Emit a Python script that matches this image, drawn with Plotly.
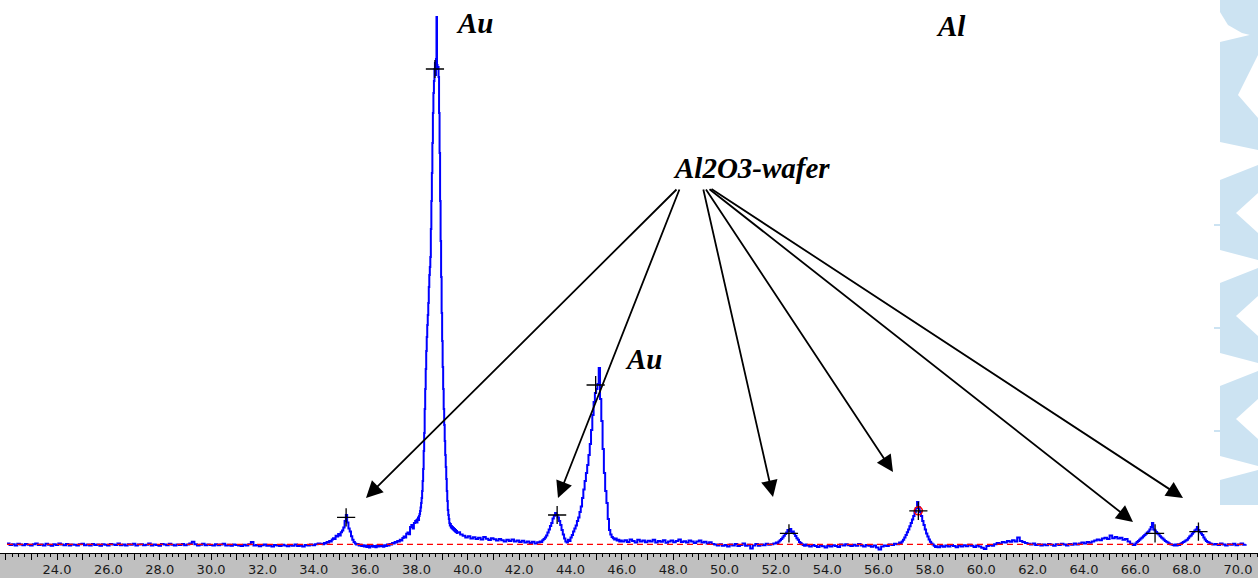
import numpy as np
import plotly.graph_objects as go

# ---------------- data: XRD scan stored as segments (start 2-theta, step, counts) ----------------
seg_start = [22.05, 34.30, 38.00, 39.60, 42.75, 46.10, 52.00, 53.30, 56.85, 58.40, 64.30, 66.00, 69.10]
seg_step = [0.1, 0.05, 0.02, 0.1, 0.05, 0.1, 0.05, 0.1, 0.05, 0.1, 0.1, 0.05, 0.1]

counts_a = [47, 40, 44, 38, 46, 42, 39, 45, 41, 37, 44, 48, 40,
            43, 38, 46, 41, 36, 44, 40, 47, 42, 39, 45, 38, 43,
            41, 37, 44, 46, 39, 42, 38, 45, 40, 43, 36, 44, 41,
            38, 45, 42, 40, 47, 39, 43, 37, 44, 41, 46, 38, 42,
            44, 39, 41, 47, 38, 43, 40, 36, 45, 42, 39, 46, 41,
            37, 43, 40, 45, 39, 42, 48, 56, 44, 38, 41, 46, 39,
            43, 40, 37, 44, 39, 42, 46, 38, 41, 36, 43, 40, 38,
            35, 41, 38, 44, 55, 37, 40, 34, 39, 42, 36, 38, 33,
            40, 37, 35, 41, 38, 34, 39, 36, 42, 35, 38, 33, 40,
            37, 42, 39, 44, 47, 45]
counts_b = [46, 44, 50, 48, 55, 52, 60, 57, 68, 74, 70, 86, 82, 95,
            88, 104, 112, 128, 160, 190, 152, 122, 108, 84, 66, 55, 48, 42, 45, 38,
            41, 35, 39, 33, 37, 30, 36, 28, 34, 38,
            31, 35, 29, 37, 32, 40, 34, 38, 31, 39, 35, 42, 38, 45,
            42, 50, 47, 55, 52, 60, 58, 66, 63, 75, 82, 78, 96, 102, 94, 130,
            140, 122, 150, 160]
counts_c = [165, 152, 170, 178, 165, 185, 195, 210, 228, 250,
            275, 310, 360, 420, 510, 600, 720, 820, 920, 1010,
            1080, 1140, 1190, 1250, 1330, 1390, 1430, 1480, 1620, 1760,
            1900, 2050, 2200, 2300, 2360, 2420, 2450, 2390, 2470, 2680,
            2440, 2420, 2430, 2380, 2200, 2000, 1760, 1560, 1380, 1200,
            1060, 930, 820, 720, 640, 560, 490, 430, 370, 310,
            260, 215, 190, 170, 150, 138, 145, 128, 135, 122,
            130, 118, 125, 112, 120, 108, 115, 104, 110, 100]
counts_d = [104, 92, 86, 78, 84, 72, 79, 70, 76, 68, 80, 71, 65, 74, 69, 62,
            70, 64, 58, 66, 60, 68, 57, 63, 55, 61, 52, 58, 50, 56, 48, 54]
counts_e = [52, 58, 55, 64, 70,
            78, 88, 102, 118, 135, 150, 172, 186, 200, 190,
            178, 160, 140, 115, 92, 72, 58, 52, 66, 60,
            78, 90, 108, 122, 138, 160, 178, 205, 232, 275,
            318, 360, 400, 440, 490, 545, 615, 690, 755, 800,
            820, 845, 925, 770, 660, 520, 400, 310, 250, 170,
            115, 92, 80, 74, 68, 72, 62, 66, 58, 63,
            57]
counts_f = [64, 55, 68, 60, 52, 66, 58, 63, 54,
            61, 57, 66, 53, 60, 56, 64, 51, 58, 62,
            54, 60, 68, 55, 59, 52, 63, 57, 50, 58,
            62, 53, 56, 48, 54, 45, 42, 38, 44, 36,
            40, 33, 42, 37, 45, 35, 40, 48, 36, 41,
            22, 38, 45, 36, 42, 39, 46, 41, 44, 48]
counts_g = [52, 50, 58, 64, 70, 78, 86, 95, 102, 115, 110, 120, 105,
            108, 96, 85, 74, 66, 55, 50, 44, 40, 36, 42, 38]
counts_h = [33, 40, 35, 30, 38, 34, 27, 36, 32, 39, 35, 30, 42, 37, 44, 39, 35, 41,
            36, 45, 38, 33, 40, 36, 31, 38, 27, 18, 32, 38, 35, 42, 40, 46, 44, 52]
counts_i = [50, 58, 66, 78, 90, 104, 118, 134, 150, 168, 185, 205, 225, 255, 230,
            205, 185, 160, 140, 118, 98, 82, 68, 56, 48, 42, 36, 30, 34, 29]
counts_j = [36, 31, 38, 33, 40, 35,
            29, 37, 32, 39, 34, 41, 36, 30, 38, 33,
            26, 20, 35, 40, 36, 44, 50, 46, 55, 52,
            60, 56, 64, 58, 78, 60, 55, 50, 46, 42,
            47, 40, 44, 38, 43, 39, 45, 41, 36, 44,
            40, 46, 42, 38, 45, 41, 48, 43, 47, 52,
            48, 55, 51]
counts_k1 = [58, 62, 68, 64, 72, 76, 70, 88, 74, 80, 72, 76, 66, 70, 58, 46, 40]
counts_k2 = [48, 55, 60, 66, 72, 78, 84, 90, 96, 102, 108, 118, 130, 150, 118, 112, 105, 98, 92, 84,
             78, 72, 66, 60, 56, 52, 48, 44, 42, 40, 37, 42, 38, 44, 40, 46, 50, 55, 58, 62,
             66, 74, 82, 88, 96, 104, 112, 118, 130, 115, 105, 98, 90, 78, 68, 60, 55, 52, 48, 46,
             42]
counts_k3 = [45, 40, 47, 42, 38, 44, 41, 46, 39, 43, 47, 41, 44]

segments = [counts_a, counts_b, counts_c, counts_d, counts_e, counts_f, counts_g,
            counts_h, counts_i, counts_j, counts_k1, counts_k2, counts_k3]

# marked peaks (+)
peak_two_theta = [35.26, 38.72, 43.48, 44.98, 52.51, 57.55, 66.77, 68.46]
peak_counts = [178, 2420, 190, 840, 98, 211, 98, 107]
highlight_two_theta = [57.55]
highlight_counts = [211]
background_level = 43

x_tick_values = list(range(22, 71))
x_tick_text = [f"{v:.1f}" if v % 2 == 0 else "" for v in x_tick_values]

# ---------------- build the scan ----------------
two_theta, counts = [], []
for s, st, c in zip(seg_start, seg_step, segments):
    two_theta.extend(np.round(s + st * np.arange(len(c)), 3).tolist())
    counts.extend(c)

W, H = 1258, 578
PLOT_H = 553
X0, X1 = 21.778, 70.78
Y0, Y1 = 0, 2765

fig = go.Figure()
fig.add_trace(go.Scatter(x=two_theta, y=counts, mode="lines",
                         line=dict(color="#0000ff", width=2, shape="hv"),
                         hoverinfo="skip", showlegend=False))
fig.add_trace(go.Scatter(x=[two_theta[0], two_theta[-1]], y=[background_level, background_level],
                         mode="lines", line=dict(color="#ff0000", width=1.3, dash="6px,4px"),
                         showlegend=False))
fig.add_trace(go.Scatter(x=highlight_two_theta, y=highlight_counts, mode="markers",
                         marker=dict(symbol="circle-open", size=8, color="#ff0000",
                                     line=dict(width=1.5, color="#ff0000")),
                         showlegend=False))
fig.add_trace(go.Scatter(x=peak_two_theta, y=peak_counts, mode="markers",
                         marker=dict(symbol="cross-thin", size=13,
                                     line=dict(width=1.3, color="black")),
                         showlegend=False))


# helpers for layout positions (pixel -> data / paper)
def dx(px):
    return X0 + px * (X1 - X0) / W


def dy(py):
    return (PLOT_H - py) * (Y1 - Y0) / PLOT_H


def ppath(points):
    return "M " + " L ".join(f"{x / W:.5f},{(PLOT_H - y) / PLOT_H:.5f}" for x, y in points) + " Z"


label_font = dict(family="Liberation Serif", size=29, color="black", weight="bold", style="italic")
labels = [("Au", 474, 23), ("Au", 643, 359), ("Al", 951, 26), ("Al2O3-wafer", 751, 168)]
annotations = []
for t, px, py in labels:
    annotations.append(dict(text=t, x=px / W, y=(PLOT_H - py) / PLOT_H, xref="paper", yref="paper",
                            showarrow=False, xanchor="center", yanchor="middle", font=label_font))

arrows = [((678, 188), (366, 498)), ((680, 188), (558, 498)), ((703, 188), (773, 497)),
          ((705, 188), (893, 472)), ((708, 188), (1133, 522)), ((710, 188), (1183, 498))]
for (tx, ty), (hx, hy) in arrows:
    annotations.append(dict(x=dx(hx), y=dy(hy), ax=dx(tx), ay=dy(ty), xref="x", yref="y",
                            axref="x", ayref="y", text="", showarrow=True, arrowhead=2,
                            arrowsize=1.85, arrowwidth=1.8, arrowcolor="black", standoff=0))

# watermark (pale blue letters at right edge)
wm = "rgb(204,227,242)"
shapes = []
polys = [
    [(1220, 0), (1258, 0), (1258, 37), (1242, 33), (1228, 25), (1220, 12)],
    [(1220, 42), (1258, 33), (1258, 55), (1238, 95), (1258, 118), (1258, 150), (1220, 142)],
]
for y0 in (165, 268, 371):
    polys.append([(1258, y0), (1220, y0 + 15), (1220, y0 + 85), (1258, y0 + 95),
                  (1258, y0 + 68), (1236, y0 + 48), (1258, y0 + 28)])
polys.append([(1258, 470), (1220, 480), (1220, 505), (1258, 505)])
for p in polys:
    shapes.append(dict(type="path", path=ppath(p), xref="paper", yref="paper",
                       fillcolor=wm, line=dict(width=0), layer="below"))
for yt in (225, 328, 431):
    shapes.append(dict(type="line", x0=1214 / W, x1=1220 / W, y0=(PLOT_H - yt) / PLOT_H,
                       y1=(PLOT_H - yt) / PLOT_H, xref="paper", yref="paper",
                       line=dict(color=wm, width=2), layer="below"))

fig.update_layout(
    template="none",
    width=W, height=H,
    margin=dict(l=0, r=0, t=0, b=H - PLOT_H, pad=0),
    paper_bgcolor="#c0c0c0",
    plot_bgcolor="white",
    showlegend=False,
    annotations=annotations,
    shapes=shapes,
    xaxis=dict(range=[X0, X1], tickmode="array", tickvals=x_tick_values, ticktext=x_tick_text,
               ticks="outside", ticklen=6, tickwidth=1, tickcolor="black",
               showline=True, linecolor="black", linewidth=1, mirror=False,
               showgrid=False, zeroline=False, automargin=False, ticklabelstandoff=-2,
               tickfont=dict(family="DejaVu Sans", size=13, color="#1a1a1a"),
               minor=dict(dtick=0.25, tick0=22, ticks="outside", ticklen=3, tickwidth=1,
                          tickcolor="black", showgrid=False)),
    yaxis=dict(range=[Y0, Y1], visible=False, showgrid=False, zeroline=False, automargin=False),
)

fig.write_html("out.html", config={"displayModeBar": False},
               post_script="document.body.style.margin='0px';document.body.style.overflow='hidden';")
